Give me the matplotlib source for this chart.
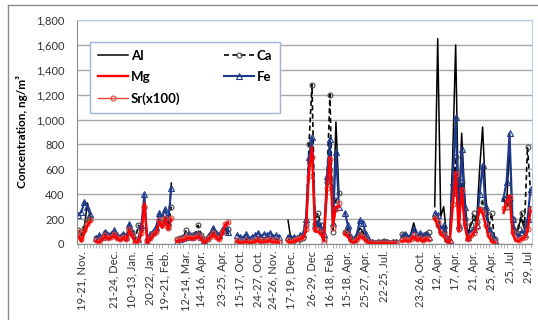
import numpy as np
import matplotlib
matplotlib.use("Agg")
from matplotlib import pyplot as plt
from matplotlib.lines import Line2D
from matplotlib.ticker import FuncFormatter

nan = np.nan

# Concentrations (ng/m3) per sampling day, NaN = gap between campaigns
al = [100, 60, 150, 330, 200, nan,
      40, 30, 60, 80, 50, 60, 90, 50, 50, 60, 40, 120, 80, 30, 20, 100, 320, 20, 50, 80, 100, 200, 150, 220, 150, 490, nan,
      30, 40, 40, 50, 60, 50, 60, 70, 50, 20, 40, 60, 100, 70, 50, 90, 120, 80, nan, nan,
      30, 30, 20, 40, 20, 30, 40, 50, 30, 40, 40, 50, 30, 40, 30, nan, nan,
      190, 30, 40, 30, 50, 60, 120, 600, 850, 200, 150, 100, 60, 400, 800, 150, 980, 400, nan,
      100, 80, 40, 30, 70, 130, 100, 50, 20, 10, 5, 10, 5, 15, 10, 5, 10, 10, nan,
      50, 60, 40, 80, 170, 70, 60, 40, 60, 80, nan,
      300, 1650, 220, 300, 60, 50, 700, 1600, 200, 890, 400, 80, 150, 200, 180, 600, 940, 400, 150, 60, 20, nan, nan,
      370, 300, 800, 150, 80, 150, 200, 120, 100, 300]

ca = [110, 80, 130, 190, 210, nan,
      50, 40, 60, 90, 60, 70, 80, 60, 50, 70, 50, 130, 100, 40, 150, 120, 300, 30, 60, 90, 110, 170, 160, 200, 140, 300, nan,
      40, 50, 60, 110, 60, 70, 80, 150, 70, 40, 40, 70, 90, 80, 60, 100, 130, 120, nan, nan,
      20, 20, 10, 30, 20, 20, 30, 40, 20, 30, 30, 40, 20, 30, 20, nan, nan,
      40, 20, 30, 20, 40, 50, 150, 800, 1280, 160, 250, 150, 40, 500, 1200, 100, 350, 410, nan,
      100, 120, 40, 30, 60, 80, 100, 40, 20, 15, 10, 20, 15, 25, 15, 10, 20, 15, nan,
      80, 70, 50, 60, 80, 50, 60, 70, 80, 100, nan,
      220, 150, 120, 100, 30, 20, 400, 700, 130, 500, 200, 50, 150, 250, 180, 280, 340, 250, 120, 250, 40, nan, nan,
      360, 300, 350, 200, 100, 120, 250, 150, 780, 420]

fe = [230, 260, 340, 300, 240, nan,
      50, 70, 60, 100, 70, 80, 110, 70, 60, 80, 60, 160, 100, 20, 40, 150, 400, 10, 80, 100, 140, 250, 220, 280, 180, 450, nan,
      20, 40, 50, 60, 80, 60, 70, 90, 60, 30, 50, 80, 130, 90, 70, 110, 150, 100, nan, nan,
      70, 60, 50, 80, 40, 60, 70, 90, 60, 80, 70, 90, 60, 70, 60, nan, nan,
      60, 50, 60, 50, 70, 80, 200, 700, 860, 150, 180, 120, 80, 550, 840, 170, 740, 300, nan,
      250, 150, 60, 40, 80, 190, 170, 80, 30, 20, 10, 15, 10, 20, 15, 10, 20, 15, nan,
      60, 80, 50, 70, 120, 60, 90, 50, 80, 60, nan,
      250, 230, 120, 150, 50, 30, 500, 1020, 150, 760, 300, 60, 100, 120, 150, 400, 635, 300, 120, 80, 30, nan, nan,
      370, 500, 890, 200, 80, 60, 100, 80, 200, 440]

mg = [60, 20, 90, 150, 180, nan,
      20, 10, 40, 60, 40, 50, 70, 40, 30, 50, 30, 110, 60, 10, 20, 80, 330, 10, 40, 70, 90, 180, 130, 200, 120, 200, nan,
      20, 30, 30, 40, 50, 40, 50, 60, 40, 10, 30, 50, 80, 50, 30, 80, 150, 170, nan, nan,
      20, 10, 10, 20, 10, 10, 20, 30, 10, 20, 20, 30, 10, 20, 10, nan, nan,
      20, 10, 20, 30, 40, 50, 100, 600, 780, 100, 100, 80, 30, 450, 700, 150, 300, 300, nan,
      80, 60, 20, 10, 30, 60, 50, 30, 10, 5, 5, 5, 5, 10, 5, 5, 5, 5, nan,
      20, 30, 20, 30, 60, 30, 40, 20, 40, 30, nan,
      200, 150, 80, 60, 20, 10, 300, 580, 100, 450, 150, 30, 60, 80, 150, 290, 250, 150, 60, 20, 10, nan, nan,
      250, 350, 390, 80, 30, 20, 40, 50, 100, 270]

sr = [100, 40, 110, 160, 190, nan,
      30, 20, 50, 70, 50, 60, 80, 50, 40, 60, 40, 120, 70, 20, 30, 90, 300, 20, 50, 80, 100, 190, 150, 210, 130, 210, nan,
      30, 40, 40, 60, 60, 50, 60, 70, 50, 20, 40, 60, 90, 60, 40, 100, 160, 180, nan, nan,
      30, 20, 10, 30, 20, 20, 30, 40, 20, 30, 30, 40, 20, 30, 20, nan, nan,
      30, 20, 30, 40, 50, 60, 120, 550, 700, 120, 110, 90, 20, 450, 680, 130, 280, 330, nan,
      90, 70, 30, 20, 40, 70, 60, 30, 10, 5, 5, 10, 5, 10, 5, 5, 10, 5, nan,
      30, 40, 30, 40, 70, 40, 50, 30, 50, 40, nan,
      210, 180, 90, 70, 30, 20, 320, 560, 120, 430, 160, 40, 70, 90, 140, 270, 260, 150, 70, 30, 10, nan, nan,
      290, 320, 380, 100, 40, 30, 50, 60, 120, 280]

tick_pos = [1, 12, 18, 24, 29, 36, 41, 48, 54, 60, 65, 71, 78, 84, 90, 96, 102,
            114, 120, 126, 132, 138, 144, 150]
tick_labels = ["19-21, Nov.", "21-24, Dec.", "10~13, Jan.", "20-22, Jan.", "19~21, Feb.",
               "12~14, Mar.", "14-16, Apr.", "23-25, Apr.", "15-17, Oct.", "24-27, Oct.",
               "24-26, Nov.", "17-19, Dec.", "26-29, Dec", "16-18, Feb.", "15-18, Apr.",
               "25-27, Apr.", "22-25, Jul.", "23-26, Oct.", "12, Apr.", "17, Apr.",
               "21, Apr.", "25, Apr.", "25, Jul", "29, Jul"]

plt.rcParams["font.family"] = ["Lato", "DejaVu Sans"]

x = np.arange(len(al))

fig = plt.figure(figsize=(5.38, 3.2), dpi=100)
ax = fig.add_axes([77/538, 1-244/320, 455/538, 224/320])

l_al, = ax.plot(x, al, color="black", lw=1.1, label="Al")
l_ca, = ax.plot(x, ca, color="black", lw=1.2, ls=(0, (3, 2)), marker="o", ms=3.5,
                mfc="none", mec="#444444", mew=0.8, label="Ca")
l_fe, = ax.plot(x, fe, color="#1F3A8A", lw=1.5, marker="^", ms=4, mfc="none",
                mec="#1F3A8A", mew=0.8, label="Fe")
l_sr, = ax.plot(x, sr, color="#E8433A", lw=1.0, marker="o", ms=3.5, mfc="none",
                mec="#E8433A", mew=0.8, label="Sr(x100)")
l_mg, = ax.plot(x, mg, color="#FF0000", lw=1.7, label="Mg")

ax.set_xlim(-0.5, len(al) - 0.5)
ax.set_ylim(0, 1800)
ax.set_yticks(np.arange(0, 1801, 200))
ax.yaxis.set_major_formatter(FuncFormatter(lambda v, p: f"{int(v):,}"))
ax.tick_params(axis="y", length=0, pad=9, labelsize=8, labelcolor="#333333")

ax.set_xticks(tick_pos)
ax.set_xticklabels(tick_labels, rotation=90, fontsize=8, color="#333333")
ax.set_xticks(x, minor=True)
ax.tick_params(axis="x", which="major", length=0, pad=5)
ax.tick_params(axis="x", which="minor", length=3, color="#aaaaaa", width=0.6)

#Gridlines and frame
ax.set_axisbelow(True)
ax.yaxis.grid(True, color="#a6a6a6", lw=1)
for s in ["top", "right"]:
    ax.spines[s].set_color("#b9cde5")
for s in ["left", "bottom"]:
    ax.spines[s].set_color("#8c8c8c")

ax.set_ylabel("Concentration, ng/m³", fontsize=8.5, fontweight="bold", labelpad=6)

leg = ax.legend(handles=[l_al, l_mg, l_sr, l_ca, l_fe], ncol=2, loc="upper left",
                bbox_to_anchor=(0.028, 0.902), borderaxespad=0,
                prop={"weight": "bold", "size": 9.5}, handlelength=2.3,
                columnspacing=3.3, labelspacing=0.7, borderpad=0.6,
                handletextpad=0.2, fancybox=False, framealpha=1)
leg.get_frame().set_edgecolor("#9db4d8")
leg.get_frame().set_linewidth(1)

#Outer chart border
fig.add_artist(Line2D([8/538, 1], [1-5/320, 1-5/320], color="#8c8c8c", lw=1,
                      transform=fig.transFigure))
fig.add_artist(Line2D([8/538, 8/538], [0, 1-5/320], color="#8c8c8c", lw=1,
                      transform=fig.transFigure))

fig.savefig("out.png", dpi=100)
